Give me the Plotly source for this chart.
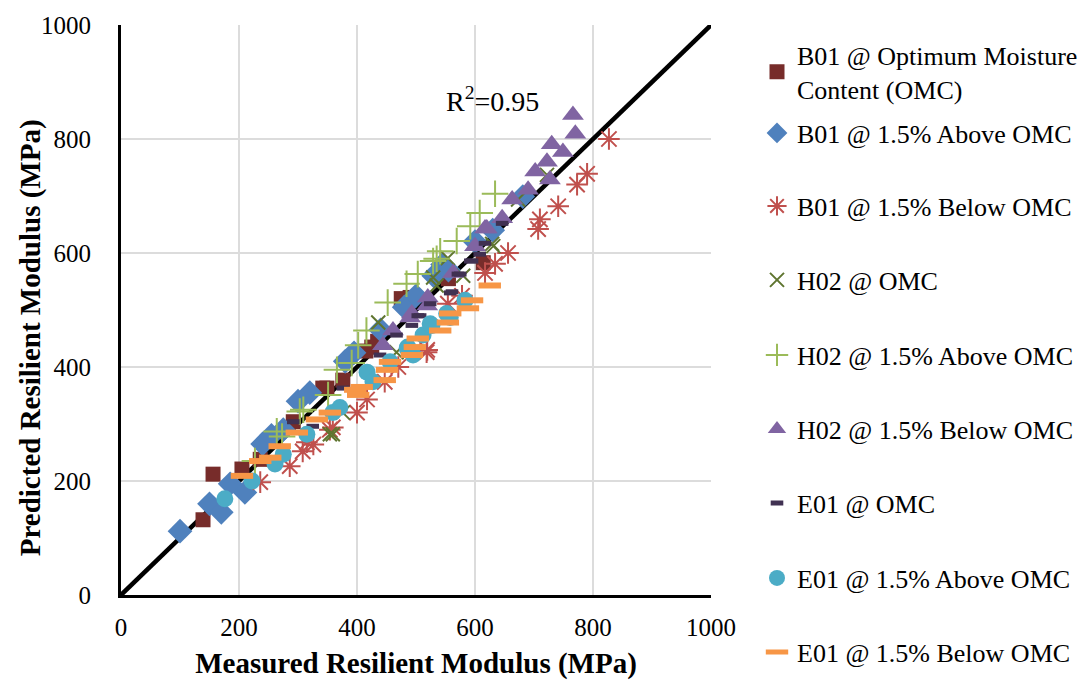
import plotly.graph_objects as go

# ---------------- data (measured, predicted) ----------------
b01_omc_x = [139, 156, 205, 236, 292, 342, 349, 376, 425, 415, 435, 475, 490, 555, 614]
b01_omc_y = [132, 212, 221, 238, 304, 363, 363, 377, 435, 428, 445, 520, 522, 555, 583]

b01_above_x = [100, 150, 170, 185, 210, 240, 255, 275, 300, 320, 380, 395, 440, 480, 500, 530, 545, 555, 600, 630, 681]
b01_above_y = [112, 160, 145, 195, 180, 265, 280, 290, 340, 355, 410, 425, 465, 505, 525, 560, 580, 570, 620, 640, 699]

b01_below_x = [236, 286, 308, 326, 354, 315, 359, 400, 417, 447, 470, 519, 518, 554, 578, 617, 634, 656, 707, 710, 741, 773, 790, 827]
b01_below_y = [198, 226, 252, 264, 290, 268, 294, 320, 343, 374, 400, 430, 426, 511, 525, 565, 581, 600, 642, 659, 682, 720, 739, 800]

h02_omc_x = [354, 359, 376, 436, 467, 529, 535, 554, 580, 629, 631, 673, 722]
h02_omc_y = [282, 282, 320, 478, 426, 557, 543, 591, 560, 616, 612, 694, 737]

h02_above_x = [227, 264, 273, 303, 309, 351, 366, 391, 402, 416, 452, 484, 503, 529, 535, 541, 569, 592, 608, 634]
h02_above_y = [235, 287, 278, 322, 325, 351, 395, 407, 438, 464, 513, 546, 563, 586, 590, 603, 621, 647, 670, 704]

h02_below_x = [444, 461, 490, 493, 519, 520, 563, 600, 617, 620, 646, 663, 690, 702, 722, 727, 730, 749, 766, 770]
h02_below_y = [438, 464, 487, 494, 508, 522, 565, 612, 643, 643, 661, 694, 711, 743, 760, 729, 791, 777, 842, 809]

e01_omc_x = [292, 325, 376, 439, 467, 493, 503, 507, 524, 558, 561, 571, 575, 592, 595, 608, 617, 646]
e01_omc_y = [304, 296, 363, 421, 456, 473, 490, 490, 511, 530, 532, 563, 563, 586, 586, 598, 617, 652]

e01_above_x = [176, 222, 261, 275, 315, 359, 371, 417, 427, 456, 485, 486, 495, 512, 524, 527, 552, 558, 583]
e01_above_y = [169, 200, 230, 247, 282, 320, 329, 391, 374, 409, 433, 435, 421, 456, 476, 473, 494, 487, 517]

e01_below_x = [205, 236, 253, 269, 298, 332, 354, 397, 402, 408, 447, 451, 456, 493, 498, 503, 541, 554, 558, 588, 595, 625]
e01_below_y = [209, 235, 241, 261, 285, 308, 320, 360, 351, 365, 377, 395, 409, 421, 435, 450, 464, 478, 494, 503, 517, 543]

series_names = [
    "B01 @ Optimum Moisture<br>Content (OMC)",
    "B01 @ 1.5% Above OMC",
    "B01 @ 1.5% Below OMC",
    "H02 @ OMC",
    "H02 @ 1.5% Above OMC",
    "H02 @ 1.5% Below OMC",
    "E01 @ OMC",
    "E01 @ 1.5% Above OMC",
    "E01 @ 1.5% Below OMC",
]

line_x = [0, 1000]
line_y = [0, 1000]
ticks = [0, 200, 400, 600, 800, 1000]

FONT = "Liberation Serif, Times New Roman, serif"
W, H = 1092, 686

fig = go.Figure()

# 1:1 line
fig.add_trace(go.Scatter(x=line_x, y=line_y, mode="lines",
                         line=dict(color="black", width=4.5),
                         showlegend=False, hoverinfo="skip"))

styles = [
    (b01_omc_x, b01_omc_y, dict(symbol="square", size=15, color="#772C2A")),
    (b01_above_x, b01_above_y, dict(symbol="diamond", size=19, color="#4F81BD")),
    (b01_below_x, b01_below_y, dict(symbol="asterisk-open", size=18, color="#C0504D",
                                    line=dict(color="#C0504D", width=2))),
    (h02_omc_x, h02_omc_y, dict(symbol="x-thin-open", size=14, color="#5F7530",
                                line=dict(color="#5F7530", width=2))),
    (h02_above_x, h02_above_y, dict(symbol="cross-thin-open", size=19, color="#9BBB59",
                                    line=dict(color="#9BBB59", width=2))),
    (h02_below_x, h02_below_y, dict(symbol="triangle-up", size=19, color="#8064A2")),
    (e01_omc_x, e01_omc_y, dict(symbol="line-ew-open", size=9, color="#403152",
                                line=dict(color="#403152", width=5))),
    (e01_above_x, e01_above_y, dict(symbol="circle", size=17, color="#4BACC6")),
    (e01_below_x, e01_below_y, dict(symbol="line-ew-open", size=16, color="#F79646",
                                    line=dict(color="#F79646", width=6))),
]

# legend item centre rows (px from top) in the reference
legend_rows = [72, 133, 206, 280, 355, 429, 503, 578, 652]

legend_layout = {}
for i, (xs, ys, mk) in enumerate(styles):
    key = "legend" if i == 0 else f"legend{i + 1}"
    fig.add_trace(go.Scatter(x=xs, y=ys, mode="markers", name=series_names[i],
                             marker=mk, legend=key))
    legend_layout[key] = dict(
        xref="container", yref="container",
        x=757 / W, y=1 - legend_rows[i] / H, xanchor="left", yanchor="middle",
        font=dict(family=FONT, size=26, color="black"),
        bgcolor="rgba(0,0,0,0)", itemwidth=30,
    )

fig.add_annotation(x=629, y=870, text="R<sup>2</sup>=0.95", showarrow=False,
                   font=dict(family=FONT, size=28, color="black"))

# y-axis title (as annotation, placed like the reference)
fig.add_annotation(xref="paper", yref="paper",
                   x=(30 - 121) / 590, y=(597 - 338) / 575,
                   text="<b>Predicted Resilient Modulus (MPa)</b>", textangle=-90,
                   showarrow=False, xanchor="center", yanchor="middle",
                   font=dict(family=FONT, size=29, color="black"))

axis_common = dict(
    range=[0, 1000], tickvals=ticks, showgrid=True, gridcolor="#DCDCDC", gridwidth=2,
    zeroline=False, showline=True, linecolor="black", linewidth=3,
    ticks="", tickfont=dict(family=FONT, size=25, color="black"),
)

fig.update_layout(
    width=W, height=H,
    margin=dict(l=121, r=381, t=22, b=89),
    paper_bgcolor="white", plot_bgcolor="white",
    font=dict(family=FONT, color="black"),
    xaxis=dict(**axis_common, ticklabelstandoff=8,
               title=dict(text="<b>Measured Resilient Modulus (MPa)</b>",
                          font=dict(family=FONT, size=29), standoff=13)),
    yaxis=dict(**axis_common, ticklabelstandoff=22),
    showlegend=True,
    **legend_layout,
)

fig.write_html("out.html")
